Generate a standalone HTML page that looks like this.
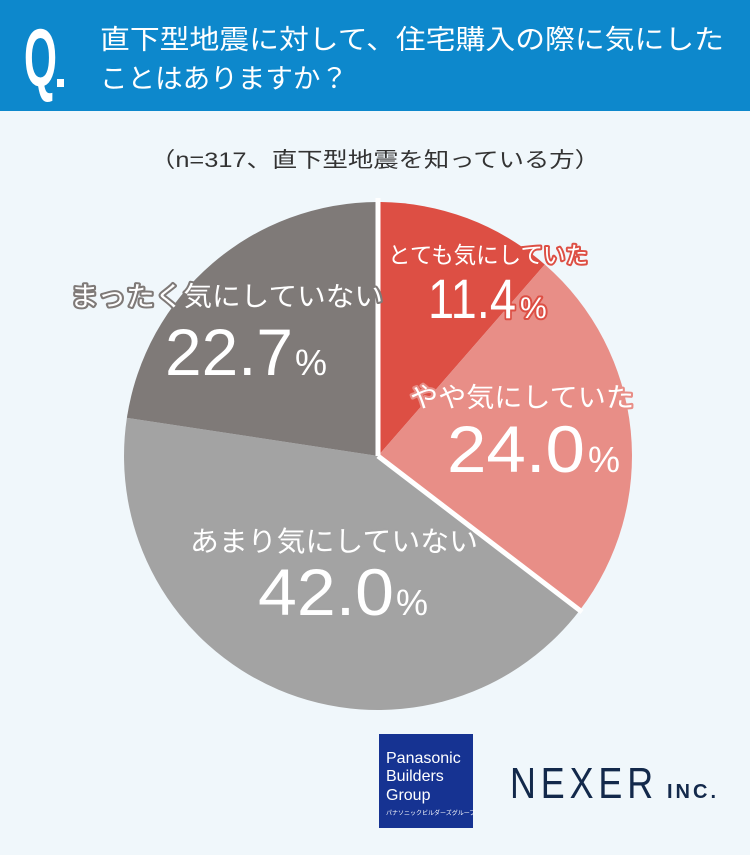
<!DOCTYPE html>
<html><head><meta charset="utf-8"><style>
html,body{margin:0;padding:0;}
body{width:750px;height:855px;background:#f0f7fb;overflow:hidden;font-family:"Liberation Sans","Noto Sans CJK JP",sans-serif;}
</style></head><body>
<svg width="750" height="855" viewBox="0 0 750 855" xmlns="http://www.w3.org/2000/svg" style="display:block">
<rect x="0" y="0" width="750" height="111" fill="#0d88cc"/>
<text x="24" y="86" font-family="Liberation Sans, sans-serif" font-weight="bold" font-size="82" fill="#fff" textLength="33" lengthAdjust="spacingAndGlyphs">Q</text>
<rect x="57" y="79" width="7" height="8" fill="#fff"/>
<g font-family="Liberation Sans, Noto Sans CJK JP, sans-serif" font-size="27" fill="#fff">
<text x="100" y="49" textLength="624" lengthAdjust="spacingAndGlyphs">直下型地震に対して、住宅購入の際に気にした</text>
<text x="100" y="88" textLength="248" lengthAdjust="spacingAndGlyphs">ことはありますか？</text>
</g>
<text x="375" y="167" text-anchor="middle" font-family="Liberation Sans, Noto Sans CJK JP, sans-serif" font-size="21" fill="#333" textLength="450" lengthAdjust="spacingAndGlyphs">（n=317、直下型地震を知っている方）</text>

<path d="M378,456 L378,202 A254,254 0 0 1 544.8,264.5 Z" fill="#dd4f44"/>
<path d="M378,456 L544.8,264.5 A254,254 0 0 1 579.7,610.4 Z" fill="#e88e87"/>
<path d="M378,456 L579.7,610.4 A254,254 0 0 1 126.9,417.8 Z" fill="#a3a3a3"/>
<path d="M378,456 L126.9,417.8 A254,254 0 0 1 378,202 Z" fill="#7f7a78"/>
<line x1="378" y1="456" x2="378" y2="198" stroke="#fff" stroke-width="5"/>
<line x1="378" y1="456" x2="582" y2="612" stroke="#fff" stroke-width="5"/>

<g font-family="Liberation Sans, Noto Sans CJK JP, sans-serif" fill="#fff" stroke-linejoin="round" paint-order="stroke" stroke-width="4">
<text x="388" y="263" font-size="23" stroke="#dd4f44" textLength="200" lengthAdjust="spacingAndGlyphs">とても気にしていた</text>
<text x="428" y="318" font-size="56" stroke="#dd4f44" textLength="88" lengthAdjust="spacingAndGlyphs">11.4</text>
<text x="520" y="318" font-size="30" stroke="#dd4f44">%</text>

<text x="410" y="407" font-size="27" stroke="#e88e87" textLength="224" lengthAdjust="spacingAndGlyphs">やや気にしていた</text>
<text x="447" y="472" font-size="66" stroke="#e88e87" textLength="138" lengthAdjust="spacingAndGlyphs">24.0</text>
<text x="588" y="472" font-size="36" stroke="#e88e87">%</text>

<text x="190" y="551" font-size="28" stroke="#a3a3a3" textLength="288" lengthAdjust="spacingAndGlyphs">あまり気にしていない</text>
<text x="258" y="615" font-size="66" stroke="#a3a3a3" textLength="136" lengthAdjust="spacingAndGlyphs">42.0</text>
<text x="396" y="615" font-size="36" stroke="#a3a3a3">%</text>

<text x="70" y="306" font-size="27" stroke="#7f7a78" textLength="313" lengthAdjust="spacingAndGlyphs">まったく気にしていない</text>
<text x="165" y="375" font-size="66" stroke="#7f7a78" textLength="128" lengthAdjust="spacingAndGlyphs">22.7</text>
<text x="295" y="375" font-size="36" stroke="#7f7a78">%</text>
</g>

<rect x="379" y="734" width="94" height="94" fill="#163392"/>
<g font-family="Liberation Sans, sans-serif" fill="#fff">
<text x="386" y="763" font-size="16">Panasonic</text>
<text x="386" y="781" font-size="16">Builders</text>
<text x="386" y="800" font-size="16">Group</text>
<text x="386" y="815" font-size="6" font-family="Liberation Sans, Noto Sans CJK JP, sans-serif">パナソニックビルダーズグループ</text>
</g>
<text x="510" y="798" font-family="Liberation Sans, sans-serif" font-size="44" fill="#13294b" letter-spacing="6" textLength="148" lengthAdjust="spacingAndGlyphs">NEXER</text>
<text x="667" y="798" font-family="Liberation Sans, sans-serif" font-weight="bold" font-size="20" fill="#13294b" letter-spacing="3">INC.</text>
</svg>
</body></html>
